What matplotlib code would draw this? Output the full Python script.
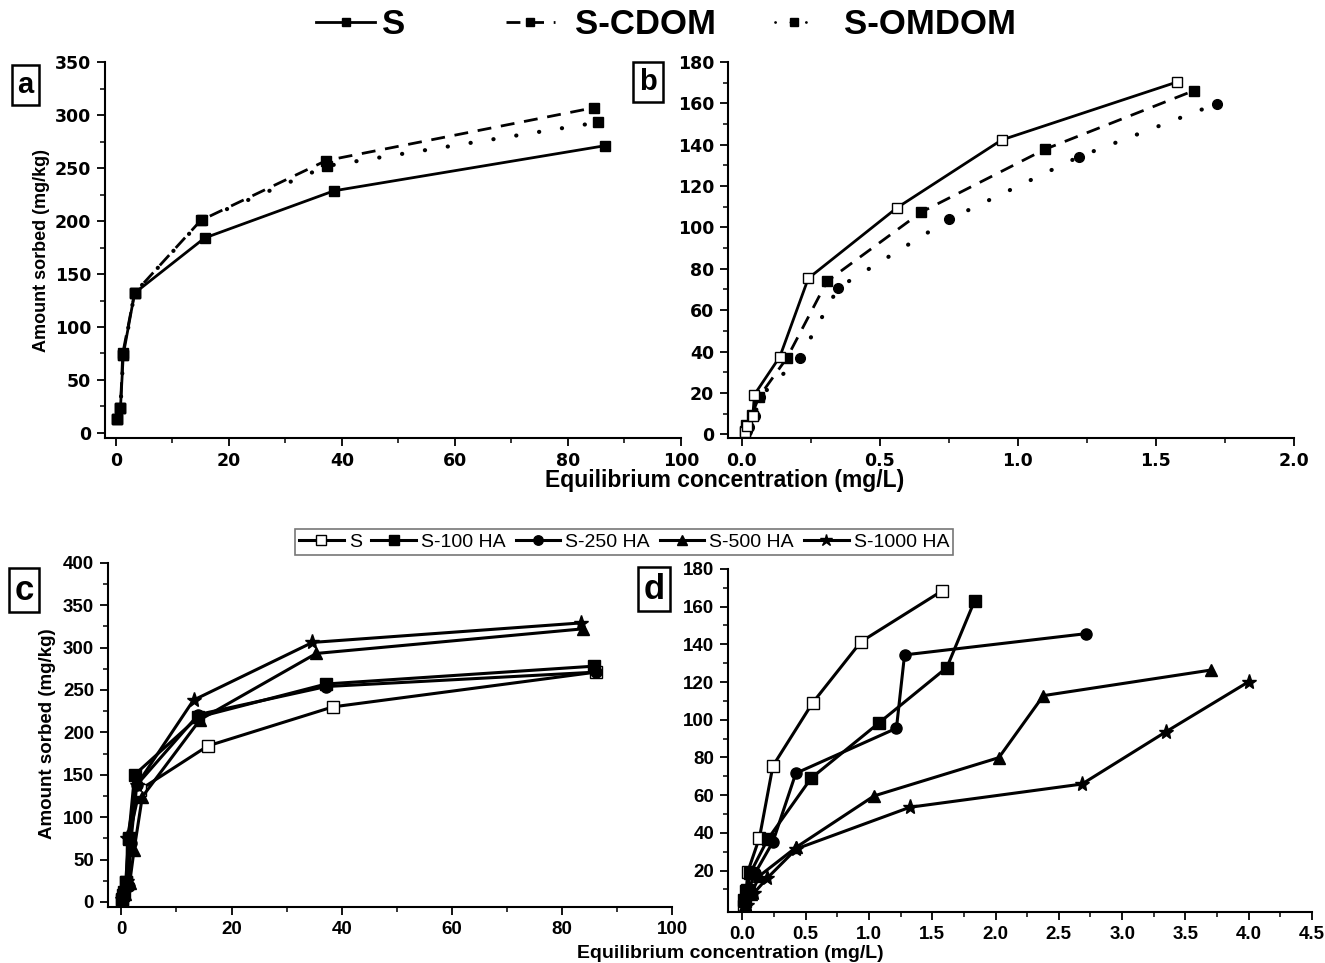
import matplotlib
matplotlib.use("Agg")
import matplotlib.pyplot as plt
from matplotlib.lines import Line2D
from matplotlib.ticker import MultipleLocator, FixedLocator, FormatStrFormatter

plt.rcParams['font.family'] = ['Liberation Sans', 'DejaVu Sans']

# ---------------- data ----------------
# panel a (x: mg/L, y: mg/kg)
a_S_x = [0.2, 0.8, 1.3, 3.3, 15.7, 38.6, 86.5]
a_S_y = [13, 24, 74, 132, 184, 228.5, 271]
a_CDOM_x = [0.2, 0.8, 1.2, 3.3, 15.0, 37.2, 84.7]
a_CDOM_y = [13, 24, 75, 132, 200.5, 257, 307]
a_OMDOM_x = [0.2, 0.8, 1.3, 3.3, 15.2, 37.4, 85.3]
a_OMDOM_y = [13, 24, 74, 132, 201, 252, 293]

# panel b
b_S_x = [0.01, 0.02, 0.04, 0.046, 0.138, 0.241, 0.562, 0.941, 1.578]
b_S_y = [1, 4, 9, 19.2, 37.5, 75.4, 109.5, 142.3, 170.4]
b_CDOM_x = [0.012, 0.016, 0.037, 0.062, 0.164, 0.309, 0.65, 1.098, 1.638]
b_CDOM_y = [1.5, 4.5, 9.4, 18, 37, 74, 107.4, 137.8, 166.2]
b_OMDOM_x = [0.02, 0.025, 0.047, 0.065, 0.21, 0.349, 0.751, 1.22, 1.72]
b_OMDOM_y = [1.6, 3.5, 8.9, 18, 37, 70.8, 103.9, 134.1, 159.8]

# panel c
c_labels = ['S', 'S-100 HA', 'S-250 HA', 'S-500 HA', 'S-1000 HA']
c_x = [
    [0.1, 0.3, 0.8, 1.3, 3.3, 15.7, 38.4, 86.2],
    [0.1, 0.4, 0.9, 1.3, 2.4, 14.0, 37.2, 85.8],
    [0.1, 0.5, 1.3, 1.7, 2.8, 14.0, 37.2, 86.2],
    [0.1, 0.6, 1.5, 2.3, 3.8, 14.3, 35.4, 83.8],
    [0.1, 0.5, 1.0, 1.1, 2.8, 13.1, 34.7, 83.5],
]
c_y = [
    [2, 8, 24, 74, 132, 184, 230, 271],
    [4, 12, 24, 75, 150, 218, 257, 278],
    [5, 14, 19, 70, 138, 221, 254, 271],
    [2, 10, 22, 61, 124, 215, 293, 322],
    [3, 12, 25, 76, 138, 238, 306, 329],
]

# panel d
d_x = [
    [0.01, 0.02, 0.03, 0.043, 0.135, 0.241, 0.554, 0.937, 1.576],
    [0.01, 0.04, 0.064, 0.2, 0.543, 1.082, 1.615, 1.835],
    [0.01, 0.04, 0.1, 0.241, 0.422, 1.217, 1.281, 2.718],
    [0.02, 0.07, 0.135, 0.426, 1.04, 2.026, 2.378, 3.705],
    [0.035, 0.09, 0.195, 0.426, 1.324, 2.683, 3.343, 4.0],
]
d_y = [
    [1, 4, 9, 19.4, 37.5, 75.5, 108.9, 141.4, 168.3],
    [4.4, 9.7, 18.9, 36.6, 69, 98.5, 127.7, 163.2],
    [2.7, 8, 18.6, 35.2, 71.6, 95.5, 134.4, 145.7],
    [1.8, 7.6, 17.2, 32.4, 59.6, 79.9, 112.8, 126.4],
    [1.8, 8, 15.9, 31.5, 53.6, 65.9, 93.5, 120.2],
]

# ---------------- styles ----------------
c_markers = ['s', 's', 'o', '^', '*']
c_mfc = ['white', 'black', 'black', 'black', 'black']
c_ms = [8, 8, 8, 8.5, 11]

fig = plt.figure(figsize=(13.25, 9.63), dpi=100)

ax_a = fig.add_axes([0.0792, 0.5452, 0.4347, 0.3904])
ax_b = fig.add_axes([0.5494, 0.5452, 0.4272, 0.3904])
ax_c = fig.add_axes([0.0815, 0.0585, 0.4257, 0.3572])
ax_d = fig.add_axes([0.5494, 0.0533, 0.4408, 0.3559])

tick_font_ab = dict(family=['DejaVu Sans'], weight='bold', size=12.5)
tick_font_cd = dict(family=['Liberation Sans'], weight='bold', size=13.5)


def style_axes(ax, font):
    for s in ['top', 'right']:
        ax.spines[s].set_visible(False)
    for s in ['left', 'bottom']:
        ax.spines[s].set_linewidth(1.5)
    ax.tick_params(which='major', direction='out', length=6, width=1.3, pad=4)
    ax.tick_params(which='minor', direction='out', length=3.5, width=1.1)
    for lab in ax.get_xticklabels() + ax.get_yticklabels():
        lab.set_fontfamily(font['family'])
        lab.set_fontweight(font['weight'])
        lab.set_fontsize(font['size'])


solid_kw = dict(color='black', lw=2.0, linestyle='-')
dash_kw = dict(color='black', lw=2.0, linestyle=(0, (5, 3.5)))
dot_kw = dict(color='black', lw=3.0, linestyle=(0, (0.05, 5.5)), dash_capstyle='round')

# ---- panel a ----
ax_a.plot(a_OMDOM_x, a_OMDOM_y, marker='s', ms=7, mfc='black', mec='black', **dot_kw)
ax_a.plot(a_CDOM_x, a_CDOM_y, marker='s', ms=7, mfc='black', mec='black', **dash_kw)
ax_a.plot(a_S_x, a_S_y, marker='s', ms=7, mfc='black', mec='black', **solid_kw)
ax_a.set_xlim(-1.95, 100)
ax_a.set_ylim(-4.7, 350)
ax_a.xaxis.set_major_locator(MultipleLocator(20))
ax_a.xaxis.set_minor_locator(MultipleLocator(10))
ax_a.yaxis.set_major_locator(MultipleLocator(50))
ax_a.yaxis.set_minor_locator(MultipleLocator(25))
style_axes(ax_a, tick_font_ab)

# ---- panel b ----
ax_b.plot(b_OMDOM_x, b_OMDOM_y, marker='o', ms=7, mfc='black', mec='black', **dot_kw)
ax_b.plot(b_CDOM_x, b_CDOM_y, marker='s', ms=7, mfc='black', mec='black', **dash_kw)
ax_b.plot(b_S_x, b_S_y, marker='s', ms=7, mfc='white', mec='black', mew=1.0, **solid_kw)
ax_b.set_xlim(-0.05, 2.0)
ax_b.set_ylim(-1.8, 180)
ax_b.xaxis.set_major_locator(MultipleLocator(0.5))
ax_b.xaxis.set_minor_locator(MultipleLocator(0.25))
ax_b.yaxis.set_major_locator(MultipleLocator(20))
ax_b.yaxis.set_minor_locator(MultipleLocator(10))
ax_b.xaxis.set_major_formatter(FormatStrFormatter('%.1f'))
style_axes(ax_b, tick_font_ab)

# ---- panel c ----
for i in range(len(c_labels)):
    ax_c.plot(c_x[i], c_y[i], color='black', lw=2.2, marker=c_markers[i], ms=c_ms[i],
              mfc=c_mfc[i], mec='black', mew=1.0, label=c_labels[i])
ax_c.set_xlim(-2.43, 100)
ax_c.set_ylim(-5.5, 400)
ax_c.xaxis.set_major_locator(MultipleLocator(20))
ax_c.xaxis.set_minor_locator(MultipleLocator(10))
ax_c.yaxis.set_major_locator(MultipleLocator(50))
ax_c.yaxis.set_minor_locator(MultipleLocator(25))
style_axes(ax_c, tick_font_cd)

# ---- panel d ----
for i in range(len(c_labels)):
    ax_d.plot(d_x[i], d_y[i], color='black', lw=2.2, marker=c_markers[i], ms=c_ms[i],
              mfc=c_mfc[i], mec='black', mew=1.0)
ax_d.set_xlim(-0.114, 4.5)
ax_d.set_ylim(-1.8, 180)
ax_d.xaxis.set_major_locator(MultipleLocator(0.5))
ax_d.xaxis.set_minor_locator(MultipleLocator(0.25))
ax_d.yaxis.set_major_locator(FixedLocator([20, 40, 60, 80, 100, 120, 140, 160, 180]))
ax_d.yaxis.set_minor_locator(FixedLocator([10, 30, 50, 70, 90, 110, 130, 150, 170]))
ax_d.xaxis.set_major_formatter(FormatStrFormatter('%.1f'))
style_axes(ax_d, tick_font_cd)

W, H = 1325.0, 963.0

# axis labels
fig.text(42 / W, 1 - 250 / H, 'Amount sorbed (mg/kg)', rotation=90, ha='center', va='center',
         fontsize=13, fontweight='bold')
fig.text(48 / W, 1 - 734 / H, 'Amount sorbed (mg/kg)', rotation=90, ha='center', va='center',
         fontsize=13.5, fontweight='bold')
fig.text(725 / W, 1 - 480 / H, 'Equilibrium concentration (mg/L)', ha='center', va='center',
         fontsize=16.5, fontweight='bold')
fig.text(730 / W, 1 - 953 / H, 'Equilibrium concentration (mg/L)', ha='center', va='center',
         fontsize=14, fontweight='bold')

# panel letters
box_ab = dict(boxstyle='square,pad=0.2', fc='white', ec='black', lw=1.8)
box_cd = dict(boxstyle='square,pad=0.15', fc='white', ec='black', lw=1.8)
for letter, (px, py), fs, bx in [('a', (25.5, 85), 21, box_ab),
                                 ('b', (648, 82), 21, box_ab),
                                 ('c', (24, 590), 25, box_cd),
                                 ('d', (654, 589), 25, box_cd)]:
    fig.text(px / W, 1 - py / H, letter, ha='center', va='center', fontsize=fs,
             fontweight='bold', bbox=bx)

# top legend (three pieces)
top_entries = [
    ('S', solid_kw, 316, 1.7, 0.2),
    ('S-CDOM', dash_kw, 506, 1.4, 0.58),
    ('S-OMDOM', dot_kw, 775, 1.1, 0.9),
]
for lab, kw, xpix, hl, htp in top_entries:
    kw2 = dict(kw)
    kw2['lw'] = 2.0
    h = Line2D([], [], marker='s', ms=6, mfc='black', mec='black', **kw2)
    fig.legend([h], [lab], loc='center left', bbox_to_anchor=(xpix / W, 1 - 25 / H),
               frameon=False, borderpad=0, borderaxespad=0, handlelength=hl,
               handletextpad=htp, prop=dict(family='Liberation Sans', weight='bold', size=25))

# legend for c/d
handles, labels = ax_c.get_legend_handles_labels()
leg = fig.legend(handles, labels, loc='center', bbox_to_anchor=(624 / W, 1 - 542 / H), ncol=5,
                 frameon=True, fancybox=False, edgecolor='#555555', handlelength=2.3,
                 handletextpad=0.26, columnspacing=0.5, borderpad=0.2, markerscale=0.85,
                 prop=dict(family='Liberation Sans', size=14))
leg.get_frame().set_linewidth(1.2)

fig.savefig('out.png', dpi=100)
